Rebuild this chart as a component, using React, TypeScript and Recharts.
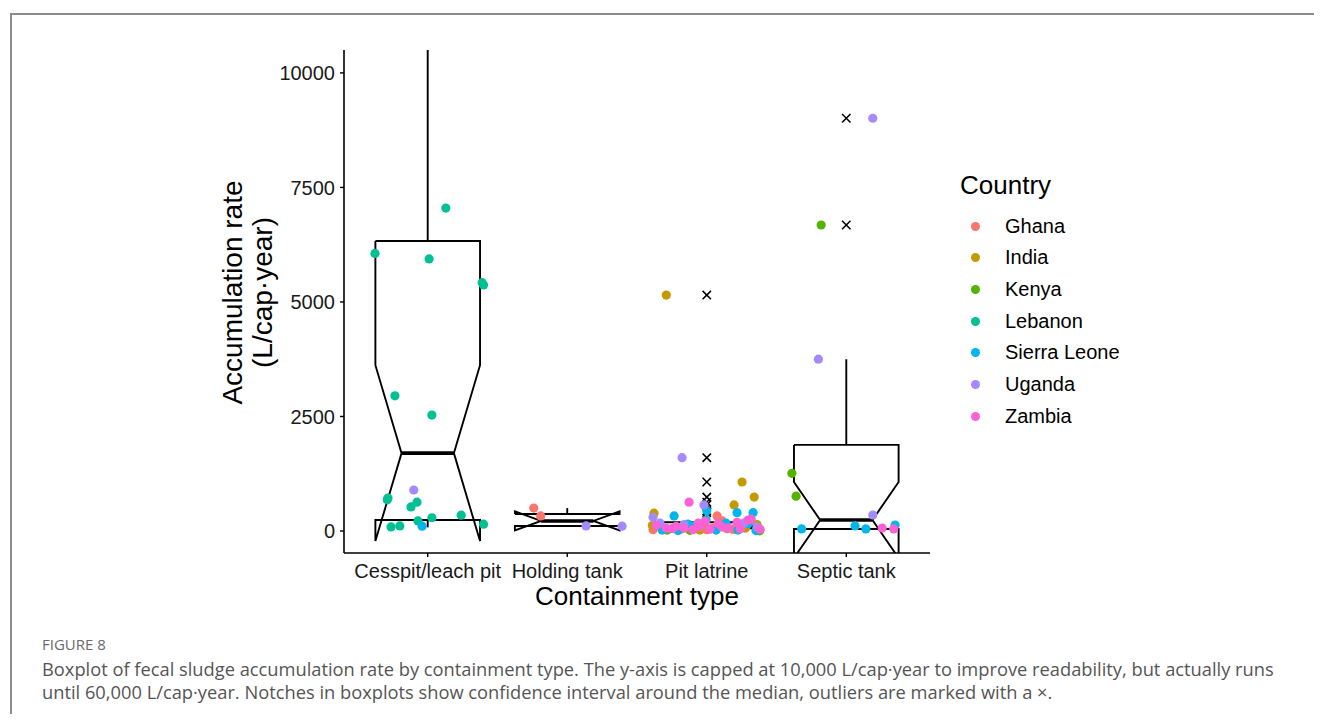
import { ComposedChart, Line, Scatter, XAxis, YAxis } from "recharts";

const categories = ["Cesspit/leach pit", "Holding tank", "Pit latrine", "Septic tank"];
const countries = ["Ghana", "India", "Kenya", "Lebanon", "Sierra Leone", "Uganda", "Zambia"];
const countryColors = ["#F8766D", "#C49A00", "#53B400", "#00C094", "#00B6EB", "#A58AFF", "#FB61D7"];
const yTicks = [0, 2500, 5000, 7500, 10000];

// box statistics per containment type, in the order of categories
const whiskerLow = [80, 110, 5, 40];
const q1 = [240, 110, 60, 45];
const medians = [1700, 220, 100, 240];
const q3 = [6330, 372, 190, 1880];
const whiskerHigh = [14000, 500, 340, 3750];
const notchLow = [-220, 13, 80, -590];
const notchHigh = [3620, 427, 120, 1070];

// outliers drawn with a cross: [category, value]
const outliers: [string, number][] = [
  ["Pit latrine", 5150],
  ["Pit latrine", 1600],
  ["Pit latrine", 1070],
  ["Pit latrine", 740],
  ["Pit latrine", 630],
  ["Pit latrine", 570],
  ["Pit latrine", 440],
  ["Pit latrine", 400],
  ["Septic tank", 9010],
  ["Septic tank", 6680],
];

// jittered observations: [category, horizontal jitter, rate]
type Obs = [string, number, number];

const ghana: Obs[] = [
  ["Holding tank", -0.24, 500],
  ["Holding tank", -0.19, 330],
  ["Pit latrine", -0.385, 30],
  ["Pit latrine", -0.28, 40],
  ["Pit latrine", -0.19, 35],
  ["Pit latrine", -0.12, 40],
  ["Pit latrine", -0.08, 50],
  ["Pit latrine", -0.05, 80],
  ["Pit latrine", 0.0, 30],
  ["Pit latrine", 0.045, 60],
  ["Pit latrine", 0.074, 330],
  ["Pit latrine", 0.11, 220],
  ["Pit latrine", 0.145, 50],
  ["Pit latrine", 0.19, 35],
  ["Pit latrine", 0.275, 60],
  ["Pit latrine", 0.38, 20],
];

const india: Obs[] = [
  ["Pit latrine", -0.29, 5150],
  ["Pit latrine", 0.253, 1070],
  ["Pit latrine", 0.34, 740],
  ["Pit latrine", 0.196, 570],
  ["Pit latrine", -0.378, 390],
  ["Pit latrine", -0.39, 120],
  ["Pit latrine", 0.28, 80],
  ["Pit latrine", 0.36, 140],
  ["Pit latrine", -0.05, 20],
];

const kenya: Obs[] = [
  ["Pit latrine", -0.285, 20],
  ["Pit latrine", -0.12, 15],
  ["Pit latrine", 0.38, 5],
  ["Septic tank", -0.18, 6680],
  ["Septic tank", -0.39, 1260],
  ["Septic tank", -0.36, 760],
];

const lebanon: Obs[] = [
  ["Cesspit/leach pit", -0.378, 6060],
  ["Cesspit/leach pit", 0.01, 5940],
  ["Cesspit/leach pit", 0.13, 7050],
  ["Cesspit/leach pit", 0.39, 5420],
  ["Cesspit/leach pit", 0.4, 5370],
  ["Cesspit/leach pit", -0.235, 2950],
  ["Cesspit/leach pit", 0.03, 2530],
  ["Cesspit/leach pit", -0.285, 720],
  ["Cesspit/leach pit", -0.29, 680],
  ["Cesspit/leach pit", -0.12, 525],
  ["Cesspit/leach pit", -0.077, 630],
  ["Cesspit/leach pit", -0.263, 90],
  ["Cesspit/leach pit", -0.2, 110],
  ["Cesspit/leach pit", -0.07, 220],
  ["Cesspit/leach pit", 0.03, 290],
  ["Cesspit/leach pit", 0.24, 345],
  ["Cesspit/leach pit", 0.4, 150],
];

const sierraLeone: Obs[] = [
  ["Cesspit/leach pit", -0.04, 105],
  ["Pit latrine", -0.234, 330],
  ["Pit latrine", 0.217, 400],
  ["Pit latrine", 0.332, 400],
  ["Pit latrine", 0.0, 440],
  ["Pit latrine", -0.32, 20],
  ["Pit latrine", -0.206, 10],
  ["Pit latrine", -0.091, 110],
  ["Pit latrine", -0.005, 240],
  ["Pit latrine", 0.067, 20],
  ["Pit latrine", 0.138, 170],
  ["Pit latrine", 0.224, 20],
  ["Pit latrine", 0.296, 160],
  ["Pit latrine", 0.353, 10],
  ["Pit latrine", -0.134, 150],
  ["Septic tank", -0.32, 45],
  ["Septic tank", 0.063, 110],
  ["Septic tank", 0.14, 45],
  ["Septic tank", 0.35, 130],
];

const uganda: Obs[] = [
  ["Cesspit/leach pit", -0.1, 895],
  ["Holding tank", 0.135, 110],
  ["Holding tank", 0.393, 105],
  ["Pit latrine", -0.177, 1600],
  ["Pit latrine", -0.02, 570],
  ["Pit latrine", -0.385, 300],
  ["Pit latrine", -0.335, 170],
  ["Pit latrine", -0.163, 140],
  ["Pit latrine", 0.267, 170],
  ["Pit latrine", 0.36, 90],
  ["Septic tank", 0.19, 9010],
  ["Septic tank", -0.2, 3750],
  ["Septic tank", 0.19, 350],
];

const zambia: Obs[] = [
  ["Pit latrine", -0.127, 630],
  ["Pit latrine", 0.318, 260],
  ["Pit latrine", -0.363, 120],
  ["Pit latrine", -0.29, 60],
  ["Pit latrine", -0.249, 50],
  ["Pit latrine", -0.22, 100],
  ["Pit latrine", -0.163, 60],
  ["Pit latrine", -0.1, 30],
  ["Pit latrine", -0.062, 170],
  ["Pit latrine", -0.05, 100],
  ["Pit latrine", -0.012, 210],
  ["Pit latrine", 0.024, 40],
  ["Pit latrine", 0.081, 160],
  ["Pit latrine", 0.11, 90],
  ["Pit latrine", 0.153, 70],
  ["Pit latrine", 0.217, 190],
  ["Pit latrine", 0.24, 50],
  ["Pit latrine", 0.296, 240],
  ["Pit latrine", 0.382, 40],
  ["Septic tank", 0.257, 65],
  ["Septic tank", 0.34, 45],
];

const countryObs = [ghana, india, kenya, lebanon, sierraLeone, uganda, zambia];

const BOX_HALF = 0.375;
const NOTCH_INDENT = 0.1875;
const FONT = '"Liberation Sans", Arial, Helvetica, sans-serif';
const CAPTION_FONT = '"Open Sans", "Noto Sans", sans-serif';

const catX = (name: string) => categories.indexOf(name) + 1;

function boxOutline(i: number) {
  const lo = i + 1 - BOX_HALF;
  const hi = i + 1 + BOX_HALF;
  return [
    { x: lo, y: q3[i] },
    { x: lo, y: notchHigh[i] },
    { x: lo + NOTCH_INDENT, y: medians[i] },
    { x: lo, y: notchLow[i] },
    { x: lo, y: q1[i] },
    { x: hi, y: q1[i] },
    { x: hi, y: notchLow[i] },
    { x: hi - NOTCH_INDENT, y: medians[i] },
    { x: hi, y: notchHigh[i] },
    { x: hi, y: q3[i] },
    { x: lo, y: q3[i] },
  ];
}

const Dot = (color: string) => (props: any) => (
  <circle cx={props.cx} cy={props.cy} r={4.6} fill={color} />
);

const Cross = (props: any) => {
  const { cx, cy } = props;
  const s = 4.2;
  return (
    <g stroke="#000" strokeWidth={1.6}>
      <line x1={cx - s} y1={cy - s} x2={cx + s} y2={cy + s} />
      <line x1={cx - s} y1={cy + s} x2={cx + s} y2={cy - s} />
    </g>
  );
};

const YTitle = (props: any) => {
  const { x, y, height } = props.viewBox;
  const cy = y + height / 2 - 9;
  return (
    <g fontFamily={FONT} fontSize={28} fill="#000" textAnchor="middle">
      <text x={x + 234} y={cy} transform={`rotate(-90, ${x + 234}, ${cy})`}>
        Accumulation rate
      </text>
      <text x={x + 264} y={cy} transform={`rotate(-90, ${x + 264}, ${cy})`}>
        (L/cap·year)
      </text>
    </g>
  );
};

const XTitle = (props: any) => {
  const { x, y, width } = props.viewBox;
  return (
    <text x={x + width / 2} y={y + 52} fontFamily={FONT} fontSize={26} fill="#000" textAnchor="middle">
      Containment type
    </text>
  );
};

export default function App() {
  const outlierData = outliers.map(([c, v]) => ({ x: catX(c), y: v }));

  return (
    <div style={{ position: "relative", width: 1306, height: 706, fontFamily: FONT }}>
      <style>{`html,body{overflow:hidden}`}</style>
      <div
        style={{
          position: "absolute",
          left: 2,
          top: 5,
          width: 1330,
          height: 720,
          borderTop: "2px solid #8c8c8c",
          borderLeft: "2px solid #8c8c8c",
        }}
      />
      <div style={{ position: "absolute", left: 0, top: 0 }}>
        <ComposedChart width={1000} height={640} margin={{ top: 42, right: 78, bottom: 0, left: 0 }}>
          <XAxis
            type="number"
            dataKey="x"
            domain={[0.4, 4.6]}
            ticks={[1, 2, 3, 4]}
            interval={0}
            allowDataOverflow
            tickFormatter={(v: number) => categories[v - 1]}
            height={95}
            tickSize={4}
            tickMargin={7}
            axisLine={{ stroke: "#000", strokeWidth: 1.6 }}
            tickLine={{ stroke: "#000", strokeWidth: 1.4 }}
            tick={{ fill: "#1a1a1a", fontSize: 20, fontFamily: FONT }}
            label={{ content: XTitle }}
          />
          <YAxis
            type="number"
            dataKey="y"
            domain={[-480, 10500]}
            ticks={yTicks}
            allowDataOverflow
            width={336}
            tickSize={4}
            tickMargin={5}
            axisLine={{ stroke: "#000", strokeWidth: 1.6 }}
            tickLine={{ stroke: "#000", strokeWidth: 1.4 }}
            tick={{ fill: "#1a1a1a", fontSize: 20, fontFamily: FONT }}
            label={{ content: YTitle }}
          />
          {categories.map((c, i) => (
            <Line
              key={`box-${c}`}
              data={boxOutline(i)}
              dataKey="y"
              type="linear"
              stroke="#000"
              strokeWidth={1.9}
              strokeLinejoin="miter"
              dot={false}
              activeDot={false}
              isAnimationActive={false}
            />
          ))}
          {categories.map((c, i) => (
            <Line
              key={`med-${c}`}
              data={[
                { x: i + 1 - BOX_HALF + NOTCH_INDENT, y: medians[i] },
                { x: i + 1 + BOX_HALF - NOTCH_INDENT, y: medians[i] },
              ]}
              dataKey="y"
              stroke="#000"
              strokeWidth={3.6}
              dot={false}
              activeDot={false}
              isAnimationActive={false}
            />
          ))}
          {categories.map((c, i) => (
            <Line
              key={`wh-up-${c}`}
              data={[
                { x: i + 1, y: q3[i] },
                { x: i + 1, y: whiskerHigh[i] },
              ]}
              dataKey="y"
              stroke="#000"
              strokeWidth={1.9}
              dot={false}
              activeDot={false}
              isAnimationActive={false}
            />
          ))}
          {categories.map((c, i) => (
            <Line
              key={`wh-lo-${c}`}
              data={[
                { x: i + 1, y: q1[i] },
                { x: i + 1, y: whiskerLow[i] },
              ]}
              dataKey="y"
              stroke="#000"
              strokeWidth={1.9}
              dot={false}
              activeDot={false}
              isAnimationActive={false}
            />
          ))}
          <Scatter data={outlierData} dataKey="y" shape={Cross} isAnimationActive={false} />
          {countries.map((name, k) => (
            <Scatter
              key={name}
              name={name}
              data={countryObs[k].map(([c, j, v]) => ({ x: catX(c) + j, y: v }))}
              dataKey="y"
              shape={Dot(countryColors[k])}
              isAnimationActive={false}
            />
          ))}
        </ComposedChart>
      </div>

      <div style={{ position: "absolute", left: 952, top: 162, fontSize: 26, color: "#000" }}>Country</div>
      {countries.map((name, k) => (
        <div
          key={name}
          style={{ position: "absolute", left: 960, top: 206 + k * 31.7, height: 24, display: "flex", alignItems: "center" }}
        >
          <span
            style={{ width: 9, height: 9, borderRadius: "50%", background: countryColors[k], display: "inline-block", marginLeft: 3 }}
          />
          <span style={{ marginLeft: 25, fontSize: 20, color: "#000" }}>{name}</span>
        </div>
      ))}

      <div
        style={{
          position: "absolute",
          left: 34,
          top: 626,
          fontFamily: CAPTION_FONT,
          fontSize: 15,
          fontWeight: 500,
          color: "#6b6b6b",
        }}
      >
        FIGURE 8
      </div>
      <div
        style={{
          position: "absolute",
          left: 34,
          top: 649,
          whiteSpace: "nowrap",
          fontFamily: CAPTION_FONT,
          fontSize: 18.3,
          lineHeight: "23px",
          color: "#555",
        }}
      >
        Boxplot of fecal sludge accumulation rate by containment type. The y-axis is capped at 10,000 L/cap·year to improve readability, but actually runs
        <br />
        until 60,000 L/cap·year. Notches in boxplots show confidence interval around the median, outliers are marked with a ×.
      </div>
    </div>
  );
}
